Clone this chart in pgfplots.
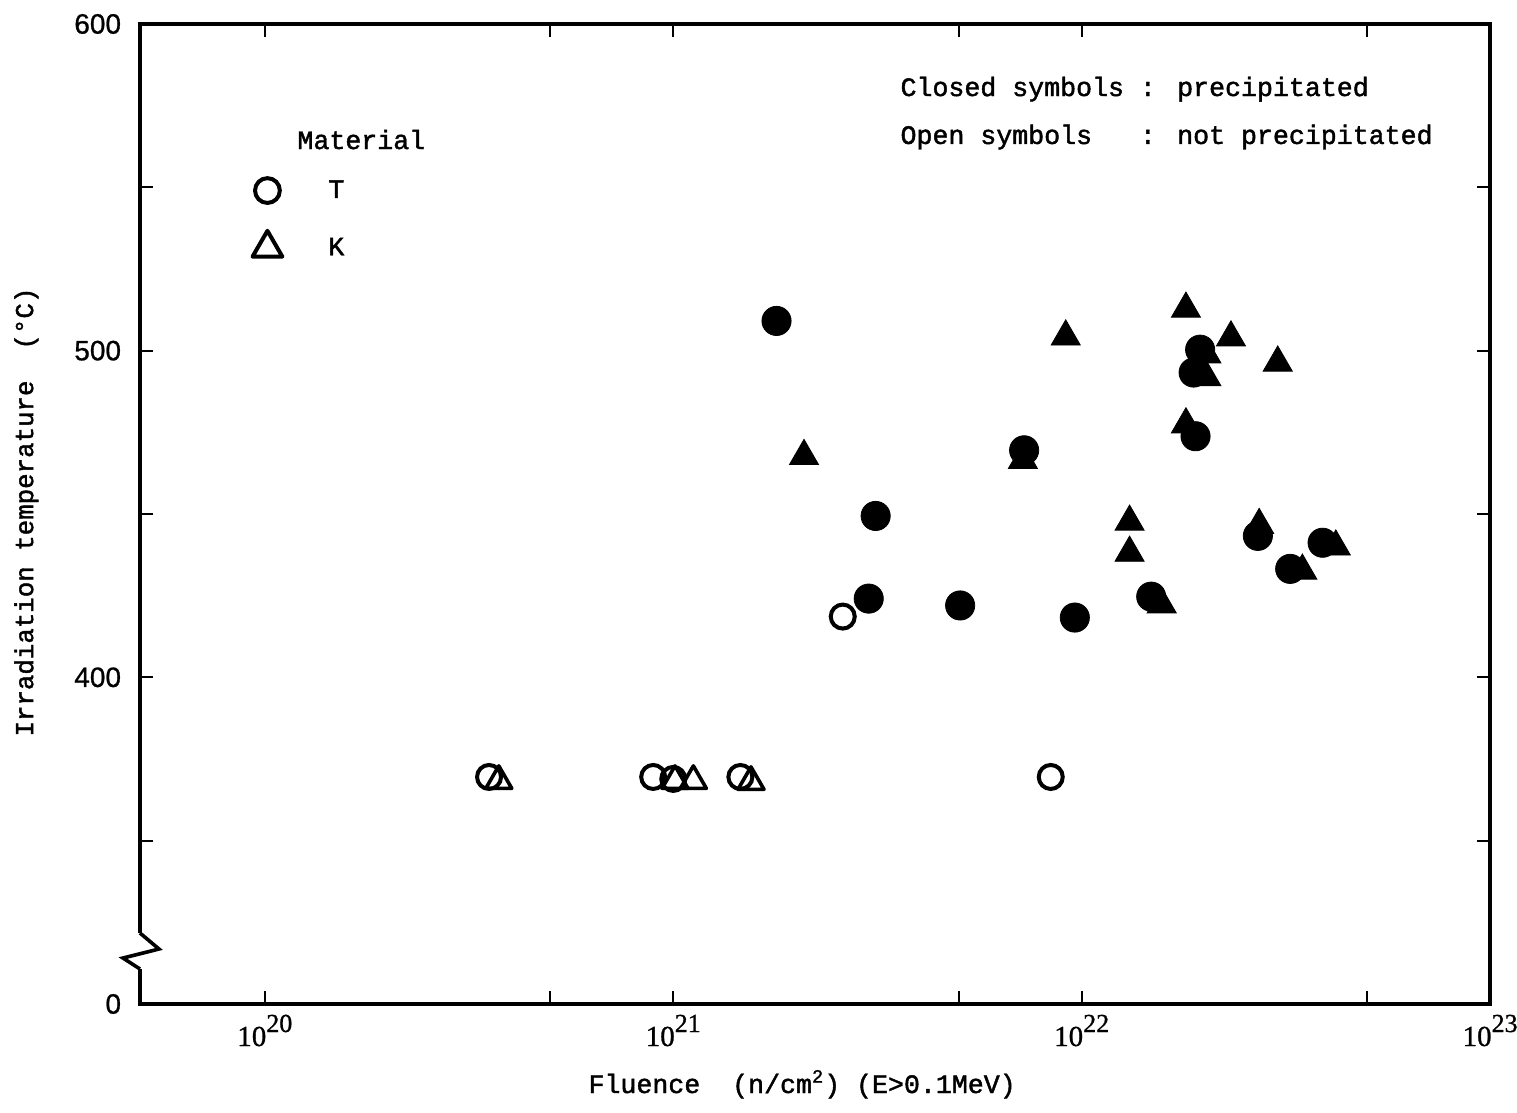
\documentclass[border=0pt]{standalone}
\usepackage{fontspec}
\setmainfont{Liberation Mono}[FakeBold=1.6]
\newfontfamily\numfont{Liberation Sans}[FakeBold=0.8]
\newfontfamily\expfont{Liberation Serif}[FakeBold=1.0]
\usepackage{pgfplots}
\usepackage{pgfplotstable}
\pgfplotsset{compat=1.18}

% T material, precipitated
\pgfplotstableread{
flu temp
1.79e21 509.1
7.23e21 469.5
3.13e21 449.4
3.01e21 424.1
5.04e21 422.0
9.62e21 418.3
1.48e22 424.7
1.88e22 493.3
1.95e22 500.3
1.90e22 473.8
2.70e22 443.3
3.24e22 433.2
3.89e22 441.2
}\closedT

% K material, precipitated
\pgfplotstableread{
flu temp
2.09e21 467.7
9.14e21 504.3
7.18e21 466.5
1.80e22 512.8
2.02e22 498.8
2.02e22 491.8
2.32e22 504.0
3.02e22 496.3
1.80e22 477.4
1.31e22 447.6
1.31e22 438.1
1.57e22 422.3
2.72e22 446.6
3.47e22 432.6
4.19e22 440.0
}\closedK

% T material, not precipitated
\pgfplotstableread{
flu temp
2.60e21 418.6
3.54e20 369.5
8.93e20 369.5
1.00e21 368.9
1.46e21 369.5
8.40e21 369.5
}\openT

% K material, not precipitated
\pgfplotstableread{
flu temp
3.74e20 368.3
1.01e21 368.3
1.12e21 368.3
1.55e21 368.0
}\openK

\newcommand\decade[1]{10\raisebox{7pt}{\expfont\fontsize{13}{13}\selectfont #1}}
\newcommand\txtfont{\fontsize{13.3}{16}\selectfont}

\begin{document}
\begin{tikzpicture}
\begin{axis}[
  scale only axis, width=675pt, height=490pt,
  xmode=log, xmin=4.95e19, xmax=1e23,
  ymin=300, ymax=600,
  xtick={1e20,1e21,1e22,1e23},
  xticklabels={\decade{20},\decade{21},\decade{22},\decade{23}},
  extra x ticks={5e20,5e21,5e22}, extra x tick labels={},
  ytick={300,400,500,600}, yticklabels={0,400,500,600},
  extra y ticks={350,450,550}, extra y tick labels={},
  xminorticks=false, yminorticks=false,
  tick align=inside,
  major tick length=6.5pt,
  every tick/.style={black, line width=0.9pt},
  axis line style={line width=1.8pt},
  yticklabel style={font=\numfont\fontsize{14}{16}\selectfont, xshift=-6pt},
  xticklabel style={font=\expfont\fontsize{14.5}{16}\selectfont, anchor=base, yshift=-21pt},
  xlabel={Fluence~~(n/cm\textsuperscript{2})~(E>0.1MeV)},
  ylabel={Irradiation temperature~~(°C)},
  xlabel style={at={([yshift=-44.5pt]axis description cs:0.4904,0)}, anchor=base, font=\txtfont},
  ylabel style={at={([xshift=-53.5pt]axis description cs:0,0.502)}, anchor=base, font=\fontsize{12.9}{16}\selectfont},
  legend image code/.code={\draw[#1] plot coordinates {(0pt,0pt)};},
  legend cell align=left,
  legend style={at={(rel axis cs:0.083,0.845)}, anchor=north west, draw=none, fill=none,
    inner sep=0pt, row sep=13pt, font=\txtfont,
    /tikz/every odd column/.append style={column sep=21pt}},
]
\addlegendimage{black, mark=o, mark size=6.2pt, line width=2pt}
\addlegendentry{T}
\addlegendimage{black, mark=triangle, mark size=8.6pt, line width=2pt, line join=round}
\addlegendentry{K}

\addplot[forget plot, only marks, black, mark=o, mark size=6pt, mark options={line width=2pt}] table[x=flu, y=temp] {\openT};
\addplot[forget plot, only marks, black, mark=triangle, mark size=7.5pt, mark options={line width=1.8pt, line join=round}] table[x=flu, y=temp] {\openK};
\addplot[forget plot, only marks, black, mark=*, mark size=7.3pt, mark options={fill=black, line width=0.4pt}] table[x=flu, y=temp] {\closedT};
\addplot[forget plot, only marks, black, mark=triangle*, mark size=8.4pt, mark options={fill=black, line width=0.4pt}] table[x=flu, y=temp] {\closedK};

\node[anchor=base west, inner sep=0pt, font=\txtfont] at (rel axis cs:0.1163,0.8724) {Material};
\node[anchor=base west, inner sep=0pt, font=\txtfont] at (rel axis cs:0.563,0.9265) {Closed symbols : precipitated};
\node[anchor=base west, inner sep=0pt, font=\txtfont] at (rel axis cs:0.563,0.8776) {Open symbols~~~: not precipitated};

\coordinate (brkTop) at (rel axis cs:0,0.0724);
\coordinate (brkA) at (rel axis cs:0,0.0561);
\coordinate (brkB) at (rel axis cs:0,0.0469);
\coordinate (brkBot) at (rel axis cs:0,0.0357);
\coordinate (sw) at (rel axis cs:0,0);
\coordinate (ne) at (rel axis cs:1,1);
\end{axis}
% break in the temperature axis
\fill[white] ([xshift=-3pt]brkBot) rectangle ([xshift=3pt]brkTop);
\draw[line width=1.8pt, line join=miter] (brkTop) -- ([xshift=9.5pt]brkA) -- ([xshift=-8.5pt]brkB) -- (brkBot);
\pgfresetboundingbox
\path[use as bounding box] ([xshift=-70pt,yshift=-54pt]sw) rectangle ([xshift=13.5pt,yshift=12pt]ne);
\end{tikzpicture}
\end{document}
